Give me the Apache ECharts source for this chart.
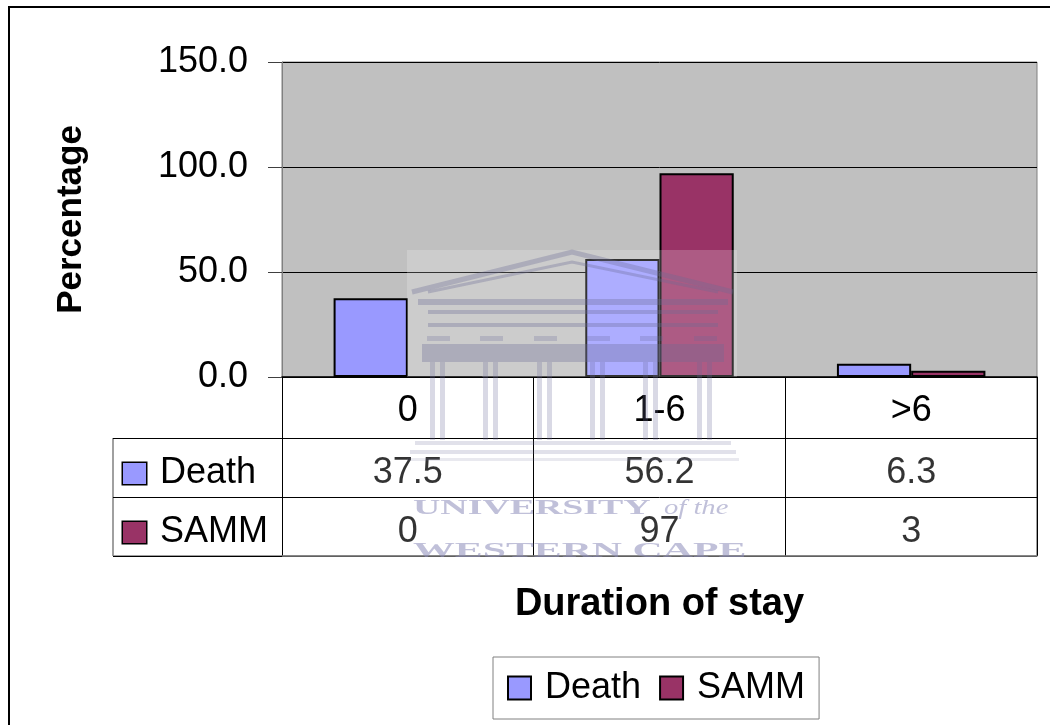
<!DOCTYPE html>
<html>
<head>
<meta charset="utf-8">
<script src="https://cdn.jsdelivr.net/npm/echarts@6/dist/echarts.min.js"></script>
<style>html,body{margin:0;padding:0;background:#fff;}#chart{width:1050px;height:725px;}</style>
</head>
<body>
<div id="chart"></div>
<script>
const categories = ['0', '1-6', '>6'];
const seriesNames = ['Death', 'SAMM'];
const deathValues = [37.5, 56.2, 6.3];
const sammValues = [0, 97, 3];
const yMin = 0, yMax = 150, yInterval = 50;
const colors = ['#9999FF', '#993366'];

const FONT = '"Liberation Sans", Arial, sans-serif';
const chart = echarts.init(document.getElementById('chart'));

const tableData = [];
categories.forEach((c, i) => {
  tableData.push([c, seriesNames[0], deathValues[i]]);
  tableData.push([c, seriesNames[1], sammValues[i]]);
});

const WM = 'rgba(105,105,150,0.33)';
const wmGraphics = [
  {type:'rect', shape:{x:407,y:250,width:330,height:127}, style:{fill:'rgba(255,255,255,0.2)'}},
  {type:'polyline', shape:{points:[[412,292],[572,252],[733,292]]}, style:{stroke:WM, lineWidth:5, fill:null}},
  {type:'polyline', shape:{points:[[428,292],[572,262],[718,292]]}, style:{stroke:WM, lineWidth:3, fill:null}},
  {type:'rect', shape:{x:418,y:299,width:310,height:6}, style:{fill:WM}},
  {type:'rect', shape:{x:428,y:310,width:290,height:4}, style:{fill:WM}},
  {type:'rect', shape:{x:428,y:323,width:290,height:4}, style:{fill:WM}},
  {type:'rect', shape:{x:422,y:344,width:302,height:18}, style:{fill:WM}},
  {type:'rect', shape:{x:415,y:441,width:316,height:4}, style:{fill:'rgba(105,105,150,0.2)'}},
  {type:'rect', shape:{x:410,y:450,width:326,height:4}, style:{fill:'rgba(105,105,150,0.2)'}},
  {type:'rect', shape:{x:407,y:458,width:332,height:3}, style:{fill:'rgba(105,105,150,0.15)'}}
];
[430, 483, 537, 590, 643, 697].forEach(x => {
  wmGraphics.push({type:'rect', shape:{x:x,y:362,width:5,height:78}, style:{fill:'rgba(105,105,150,0.25)'}});
  wmGraphics.push({type:'rect', shape:{x:x+10,y:362,width:5,height:78}, style:{fill:'rgba(105,105,150,0.25)'}});
  wmGraphics.push({type:'rect', shape:{x:x-3,y:336,width:23,height:5}, style:{fill:'rgba(105,105,150,0.25)'}});
});
const WMT = 'rgba(140,140,185,0.55)';
wmGraphics.push({type:'text', x:413, y:497, scaleX:1.72, style:{text:'UNIVERSITY', font:'bold 22px "Liberation Serif", serif', fill:WMT}});
wmGraphics.push({type:'text', x:664, y:497, scaleX:1.3, style:{text:'of the', font:'italic 22px "Liberation Serif", serif', fill:WMT}});
wmGraphics.push({type:'text', x:413, y:540, scaleX:1.9, style:{text:'WESTERN CAPE', font:'bold 22px "Liberation Serif", serif', fill:WMT}});
wmGraphics.forEach(g => { g.z = 100; g.silent = true; });

const option = {
  backgroundColor: '#ffffff',
  textStyle: { fontFamily: FONT, color: '#000' },
  animation: false,
  legend: {
    data: seriesNames,
    left: 493, top: 657,
    padding: [13, 14, 13, 14],
    itemWidth: 23, itemHeight: 23, itemGap: 18,
    icon: 'rect',
    borderColor: '#808080', borderWidth: 1,
    backgroundColor: '#fff',
    textStyle: { fontSize: 36, fontFamily: FONT, color: '#000', padding: [0, 0, 0, 9] }
  },
  grid: [
    { left: 282, top: 62, width: 755, height: 315, show: true, backgroundColor: '#C0C0C0', borderColor: '#808080', borderWidth: 1 },
    { left: 282, top: 438, width: 755, height: 118, show: false }
  ],
  xAxis: [
    {
      type: 'category', gridIndex: 0, data: categories,
      axisLine: { lineStyle: { color: '#000', width: 1.5 } },
      axisTick: { show: true, length: 61, lineStyle: { color: '#000' } },
      axisLabel: { fontSize: 36, color: '#000', margin: 16, fontFamily: FONT },
      splitLine: { show: false }
    },
    {
      type: 'category', gridIndex: 1, data: categories,
      axisLine: { lineStyle: { color: '#808080', width: 1.5 } },
      axisTick: { show: false }, axisLabel: { show: false },
      splitLine: { show: true, lineStyle: { color: '#000', width: 1 } },
      name: 'Duration of stay', nameLocation: 'middle', nameGap: 30,
      nameTextStyle: { fontSize: 38, fontWeight: 'bold', color: '#000', fontFamily: FONT }
    }
  ],
  yAxis: [
    {
      type: 'value', gridIndex: 0, min: yMin, max: yMax, interval: yInterval,
      axisLine: { show: true, lineStyle: { color: '#808080', width: 1 } },
      axisTick: { show: true, length: 14, lineStyle: { color: '#404040' } },
      axisLabel: { fontSize: 36, color: '#000', margin: 34, fontFamily: FONT, padding: [12, 0, 0, 0], formatter: v => v.toFixed(1) },
      splitLine: { show: true, lineStyle: { color: '#000', width: 1 } },
      name: 'Percentage', nameLocation: 'middle', nameRotate: 90, nameGap: 193,
      nameTextStyle: { fontSize: 35, fontWeight: 'bold', color: '#000', fontFamily: FONT }
    },
    {
      type: 'category', gridIndex: 1, data: seriesNames, inverse: true,
      axisLine: { show: true, lineStyle: { color: '#000', width: 1 } },
      axisTick: { show: true, length: 169, lineStyle: { color: '#000' } },
      splitLine: { show: true, lineStyle: { color: '#000', width: 1 } },
      axisLabel: {
        align: 'left', margin: 159, padding: [12, 0, 0, 0],
        formatter: v => '{k' + seriesNames.indexOf(v) + '|}{t|' + v + '}',
        rich: {
          k0: { width: 23, height: 21, backgroundColor: colors[0], borderColor: '#000', borderWidth: 1.5 },
          k1: { width: 23, height: 21, backgroundColor: colors[1], borderColor: '#000', borderWidth: 1.5 },
          t: { fontSize: 36, color: '#000', fontFamily: FONT, padding: [0, 0, 0, 14] }
        }
      }
    }
  ],
  series: [
    {
      name: seriesNames[0], type: 'bar', xAxisIndex: 0, yAxisIndex: 0, data: deathValues,
      barGap: '0%', barCategoryGap: '41%',
      itemStyle: { color: colors[0], borderColor: '#000', borderWidth: 2 }
    },
    {
      name: seriesNames[1], type: 'bar', xAxisIndex: 0, yAxisIndex: 0, data: sammValues,
      barGap: '0%', barCategoryGap: '41%',
      itemStyle: { color: colors[1], borderColor: '#000', borderWidth: 2 }
    },
    {
      name: 'table', type: 'scatter', xAxisIndex: 1, yAxisIndex: 1, data: tableData,
      symbolSize: 1, silent: true,
      itemStyle: { color: 'rgba(0,0,0,0)' },
      label: { show: true, position: 'inside', offset: [0, 6], formatter: p => String(p.value[2]), fontSize: 36, color: '#000', fontFamily: FONT }
    }
  ],
  graphic: [
    { type: 'rect', shape: { x: 9, y: 7, width: 1200, height: 900 }, style: { fill: null, stroke: '#000', lineWidth: 2 }, z: 0, silent: true },
    { type: 'line', shape: { x1: 113, y1: 438, x2: 113, y2: 556 }, style: { stroke: '#808080', lineWidth: 1.5 }, silent: true },
    { type: 'line', shape: { x1: 1037, y1: 377, x2: 1037, y2: 556 }, style: { stroke: '#808080', lineWidth: 1.5 }, silent: true },
    { type: 'line', shape: { x1: 113, y1: 556, x2: 1037, y2: 556 }, style: { stroke: '#808080', lineWidth: 1.5 }, silent: true }
  ].concat(wmGraphics)
};
chart.setOption(option);
</script>
</body>
</html>
